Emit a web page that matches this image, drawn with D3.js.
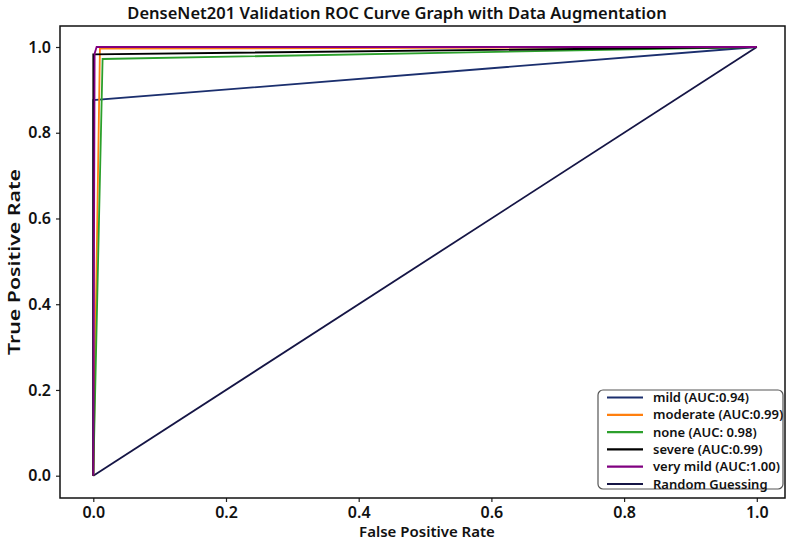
<!DOCTYPE html>
<html>
<head>
	<style>
	body {
		margin: 0;
		background: #fff;
	}
	text {
		font-family: "Noto Sans", sans-serif;
		fill: #111;
	}
	</style>
</head>
<body>
	<script src="https://d3js.org/d3.v7.min.js"></script>
	<script>
	var width = 795, height = 543;

	// series: [fpr, tpr] points
	var names = ["mild", "moderate", "none", "severe", "very mild"];
	var aucs = ["0.94", "0.99", " 0.98", "0.99", "1.00"];
	var colors = ["#1b2f6e", "#ff7f0e", "#2ca02c", "#000000", "#800080"];
	var curves = [
		[[0, 0], [0, 0.876], [1, 1]],
		[[0, 0], [0.01, 0.996], [1, 1]],
		[[0, 0], [0.014, 0.972], [1, 1]],
		[[0, 0], [0, 0.983], [1, 1]],
		[[0, 0], [0.002, 0.985], [0.005, 1], [1, 1]]
	];
	var randomLine = [[0, 0], [1, 1]];
	var randomColor = "#151545";
	var ticks = [0, 0.2, 0.4, 0.6, 0.8, 1.0];

	var frame = {left: 60, right: 785, top: 26, bottom: 498};

	var svg = d3.select("body").append("svg")
			.attr("width", width)
			.attr("height", height);

	var x = d3.scaleLinear()
		.domain([0, 1])
		.range([93.3, 756.8]);

	var y = d3.scaleLinear()
		.domain([0, 1])
		.range([475.7, 47]);

	var line = d3.line()
		.x(function(d){ return x(d[0]); })
		.y(function(d){ return y(d[1]); });

	// axes
	var xAxis = svg.append("g")
		.attr("transform", "translate(0," + frame.bottom + ")")
		.call(d3.axisBottom(x).tickValues(ticks).tickFormat(d3.format(".1f")).tickSize(4).tickPadding(5));

	var yAxis = svg.append("g")
		.attr("transform", "translate(" + frame.left + ",0)")
		.call(d3.axisLeft(y).tickValues(ticks).tickFormat(d3.format(".1f")).tickSize(4).tickPadding(5));

	[xAxis, yAxis].forEach(function(a){
		a.select(".domain").remove();
		a.selectAll(".tick line").attr("stroke", "#222").attr("stroke-width", 1.2);
		a.selectAll(".tick text")
			.style("font-size", "16px")
			.style("font-weight", "600")
			.attr("fill", "#111");
	});

	// curves
	svg.append("path")
		.datum(randomLine)
		.attr("d", line)
		.attr("fill", "none")
		.attr("stroke", randomColor)
		.attr("stroke-width", 1.8);

	svg.selectAll(".roc")
		.data(curves)
		.enter().append("path")
			.attr("class", "roc")
			.attr("d", line)
			.attr("fill", "none")
			.attr("stroke", function(d, i){ return colors[i]; })
			.attr("stroke-width", 1.8);

	// frame
	svg.append("rect")
		.attr("x", frame.left)
		.attr("y", frame.top)
		.attr("width", frame.right - frame.left)
		.attr("height", frame.bottom - frame.top)
		.attr("fill", "none")
		.attr("stroke", "#111")
		.attr("stroke-width", 1.5);

	// title and labels
	svg.append("text")
		.attr("x", 397)
		.attr("y", 19)
		.attr("text-anchor", "middle")
		.style("font-size", "16.5px")
		.style("font-weight", "600")
		.text("DenseNet201 Validation ROC Curve Graph with Data Augmentation");

	svg.append("text")
		.attr("x", 427)
		.attr("y", 537)
		.attr("text-anchor", "middle")
		.style("font-size", "15px")
		.style("font-weight", "600")
		.text("False Positive Rate");

	svg.append("text")
		.attr("transform", "translate(20,262) rotate(-90)")
		.attr("text-anchor", "middle")
		.attr("textLength", 186)
		.attr("lengthAdjust", "spacingAndGlyphs")
		.style("font-size", "15.5px")
		.style("font-weight", "600")
		.text("True Positive Rate");

	// legend
	var labels = names.map(function(n, i){ return n + " (AUC:" + aucs[i] + ")"; });
	labels.push("Random Guessing");
	var legendColors = colors.concat([randomColor]);

	var legend = svg.append("g").attr("transform", "translate(598,390)");
	legend.append("rect")
		.attr("width", 185)
		.attr("height", 99)
		.attr("rx", 5)
		.attr("fill", "#fff")
		.attr("fill-opacity", 0.85)
		.attr("stroke", "#555")
		.attr("stroke-width", 1.2);

	var item = legend.selectAll(".item")
		.data(labels)
		.enter().append("g")
			.attr("class", "item")
			.attr("transform", function(d, i){ return "translate(0," + (7.5 + i * 17.3) + ")"; });

	item.append("line")
		.attr("x1", 9).attr("x2", 45)
		.attr("stroke", function(d, i){ return legendColors[i]; })
		.attr("stroke-width", 2.2);

	item.append("text")
		.attr("x", 55)
		.attr("dy", "0.35em")
		.style("font-size", "13px")
		.style("font-weight", "600")
		.text(function(d){ return d; });
	</script>
</body>
</html>
